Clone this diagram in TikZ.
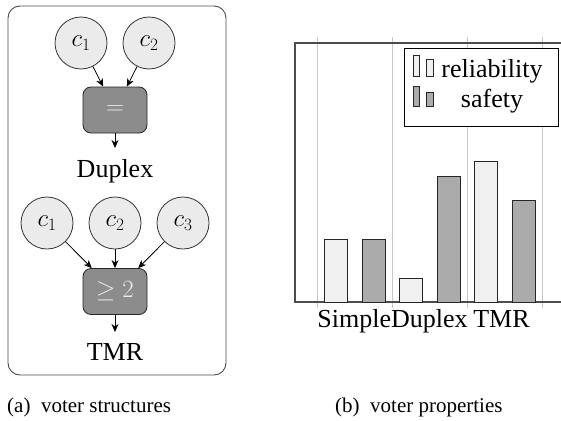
\documentclass[tikz,border=0pt]{standalone}
\usepackage{fontspec}
\setmainfont{Liberation Serif}
\newfontfamily\timesfam{Liberation Serif}
\usetikzlibrary{arrows.meta}
\begin{document}
\begin{tikzpicture}[x=1pt,y=-1pt,
  comp/.style={circle, draw=black!80, fill=black!8, line width=0.8pt, minimum size=52pt, inner sep=0pt, font=\fontsize{25}{30}\selectfont},
  voter/.style={rectangle, rounded corners=8pt, draw=black!85, fill=black!45, line width=0.8pt, minimum width=64pt, minimum height=46pt, inner sep=0pt, text=black!8, font=\fontsize{25}{30}\selectfont},
  conn/.style={-{Stealth[length=8pt,width=7pt,inset=2.5pt]}, line width=0.8pt},
  lbl/.style={font=\timesfam\fontsize{26}{31}\selectfont, inner sep=0pt, anchor=base},
  captext/.style={font=\timesfam\fontsize{21}{25}\selectfont, inner sep=0pt, anchor=base west},
  relbar/.style={draw=black!85, fill=black!6, line width=0.8pt},
  safbar/.style={draw=black!85, fill=black!33, line width=0.8pt},
  gridline/.style={draw=black!22, line width=0.8pt},
  axisline/.style={draw=black!70, line width=1.1pt}
]
\useasboundingbox (0,0) rectangle (561,420);
% ---------- (a) voter structures ----------
\draw[draw=black!70, line width=0.9pt, rounded corners=12pt] (8,6) rectangle (226,375);
\node[comp] (d1) at (81,43) {$c_1$};
\node[comp] (d2) at (149,43) {$c_2$};
\node[voter] (eq) at (115,110) {$=$};
\node[lbl] (dup) at (115,177) {Duplex};
\coordinate (dupin) at (115,148);
\draw[conn] (d1) -- (eq);
\draw[conn] (d2) -- (eq);
\draw[conn] (eq) -- (dupin);

\node[comp] (t1) at (47,223) {$c_1$};
\node[comp] (t2) at (115,223) {$c_2$};
\node[comp] (t3) at (183,223) {$c_3$};
\node[voter] (ge) at (115,291.5) {$\geq 2$};
\node[lbl] (tmr) at (115,360) {TMR};
\coordinate (tmrin) at (115,332);
\draw[conn] (t1) -- (ge);
\draw[conn] (t2) -- (ge);
\draw[conn] (t3) -- (ge);
\draw[conn] (ge) -- (tmrin);

\node[captext] (capa) at (7,412) {(a)\hspace{0.5em}voter structures};

% ---------- (b) voter properties ----------
\foreach \gx in {317,392,467,542}
  \draw[gridline] (\gx,37) -- (\gx,308);
\draw[axisline] (561,43) -- (295,43) -- (295,302) -- (561,302);

\draw[relbar] (324,302) rectangle (347,239);
\draw[safbar] (362,302) rectangle (385,239);
\draw[relbar] (399,302) rectangle (422,278);
\draw[safbar] (437,302) rectangle (460,176);
\draw[relbar] (474,302) rectangle (497,161);
\draw[safbar] (512,302) rectangle (535,200);

\draw[draw=black, fill=white, line width=0.9pt] (404,48) rectangle (558,126);
\draw[relbar] (413,55) rectangle (419.3,76.7);
\draw[relbar] (426.7,59) rectangle (433.3,76.7);
\draw[safbar] (413,86.7) rectangle (419.3,106);
\draw[safbar] (426.7,92.7) rectangle (433.3,106);
\node[lbl] (lrel) at (492,77) {reliability};
\node[lbl] (lsaf) at (492,107) {safety};

\node[lbl] (xs) at (354.3,327) {Simple};
\node[lbl] (xd) at (429.3,327) {Duplex};
\node[lbl] (xt) at (501.5,327) {TMR};

\node[captext] (capb) at (335,412) {(b)\hspace{0.5em}voter properties};
\end{tikzpicture}
\end{document}
